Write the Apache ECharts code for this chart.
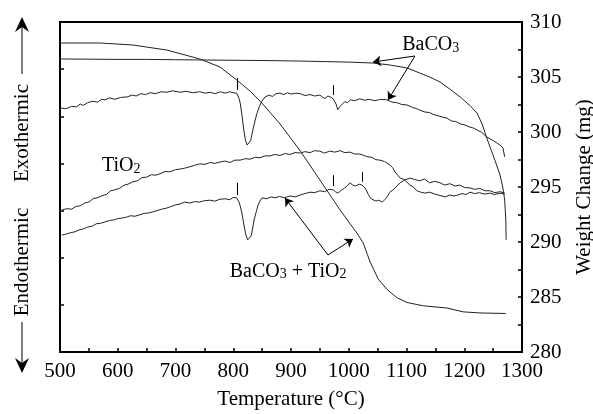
<!DOCTYPE html>
<html>
<head>
<meta charset="utf-8">
<script src="https://cdn.jsdelivr.net/npm/echarts@6/dist/echarts.min.js"></script>
<style>
    html, body { margin: 0; padding: 0; background: #fff; }
    #chart { width: 593px; height: 414px; }
</style>
</head>
<body>
<div id="chart"></div>
<script>
    // x range and tick labels
    const tempTicks = [500, 600, 700, 800, 900, 1000, 1100, 1200, 1300];
    const weightTicks = [280, 285, 290, 295, 300, 305, 310];

    // TG curves (weight, mg) -- right axis
    const tgBaCO3 = [[500,306.64],[550,306.62],[600,306.6],[650,306.6],[700,306.57],[742,306.55],[800,306.52],[850,306.5],
        [915,306.45],[960,306.4],[1002,306.35],[1042,306.27],[1070,306.1],[1101,305.82],[1123,305.36],[1140,305.0],
        [1158,304.55],[1175,303.9],[1193,303.18],[1210,302.4],[1222,301.73],[1231,300.73],[1239,299.45],[1247,298.3],
        [1253,297.45],[1262,296.09],[1267,294.9],[1270,293.8],[1272,292.0],[1272.5,290.2]];
    const tgMix = [[500,308.09],[569,308.09],[626,307.91],[685,307.45],[742,306.64],[777,305.91],[806,304.73],[829,303.73],
        [851,302.55],[881,300.73],[915,298.36],[950,295.64],[985,292.91],[1014,290.82],[1025,289.91],[1037,288.18],
        [1051,286.64],[1066,285.7],[1083,284.95],[1101,284.5],[1129,284.2],[1170,284.0],[1198,283.65],[1227,283.55],[1272,283.5]];

    // DTA curves (arbitrary units) -- left axis
    const dtaBaCO3 = [[500,51.8],[510,51.6],[520,52.1],[529,52.0],[535,52.6],[540,52.3],[548,52.9],[557,53.2],[565,53.0],
        [572,53.6],[578,53.5],[586,53.9],[595,53.6],[605,54.0],[616,54.1],[625,54.5],[632,54.3],[640,54.8],[648,54.6],
        [656,55.0],[665,54.8],[675,55.2],[685,55.1],[695,55.4],[708,55.1],[718,55.3],[730,55.0],[742,55.2],[752,54.9],
        [760,55.1],[768,54.8],[778,55.2],[786,54.9],[794,55.2],[800,55.0],[806,54.9],[810,53.8],[812,52.8],[815,50.3],
        [818,47.3],[821,45.0],[824,43.9],[827,44.1],[830,44.8],[834,47.1],[838,49.2],[841,50.6],[845,52.0],[849,53.1],
        [855,54.1],[862,54.5],[868,54.2],[874,54.8],[881,54.9],[888,54.6],[894,55.0],[900,54.7],[908,54.9],[916,54.8],
        [924,54.4],[933,54.6],[941,54.3],[950,54.5],[955,54.0],[959,53.8],[964,54.3],[968,54.1],[973,53.7],[978,52.6],
        [981,51.4],[985,52.1],[988,51.9],[993,53.1],[998,52.9],[1003,53.5],[1010,53.3],[1019,53.7],[1027,53.4],[1035,53.6],
        [1045,53.3],[1055,53.6],[1066,53.5],[1075,53.0],[1083,52.9],[1092,52.5],[1101,52.4],[1110,51.9],[1118,51.6],
        [1123,51.3],[1132,50.9],[1140,50.8],[1146,50.4],[1155,50.1],[1163,49.8],[1170,49.6],[1178,49.0],[1185,48.9],
        [1193,48.4],[1200,48.2],[1210,47.7],[1216,47.5],[1222,47.1],[1230,46.6],[1239,45.6],[1248,45.0],[1257,44.3],
        [1262,43.9],[1267,43.3],[1270,41.4]];
    const dtaTiO2 = [[503,30.1],[512,30.4],[520,30.3],[528,30.9],[535,31.0],[543,31.6],[550,31.8],[557,32.5],[564,32.7],
        [572,33.1],[580,33.4],[588,34.2],[595,34.4],[603,34.7],[611,35.4],[618,35.6],[626,36.1],[634,36.3],[642,37.0],
        [650,37.1],[658,37.6],[666,37.5],[673,37.8],[682,38.3],[690,38.2],[700,38.7],[708,38.8],[716,39.0],[725,39.3],
        [733,39.6],[742,39.9],[751,39.8],[760,40.2],[768,40.0],[777,40.3],[786,40.5],[794,40.2],[803,40.7],[812,40.7],
        [820,41.0],[829,40.9],[838,41.3],[846,41.2],[855,41.6],[864,41.6],[872,41.9],[881,41.7],[890,42.1],[898,41.9],
        [907,42.3],[916,42.2],[924,42.5],[933,42.3],[941,42.7],[950,42.6],[958,42.2],[967,42.6],[976,42.4],[985,42.7],
        [993,42.3],[1002,42.4],[1010,42.0],[1019,42.0],[1026,41.7],[1033,41.4],[1040,41.3],[1047,40.8],[1054,40.7],
        [1062,40.4],[1071,39.7],[1076,39.1],[1080,38.2],[1085,37.5],[1089,36.9],[1096,36.6],[1106,35.4],[1112,35.0],
        [1118,34.2],[1125,33.9],[1132,33.7],[1140,33.9],[1149,33.5],[1158,33.2],[1167,32.9],[1175,33.3],[1182,33.1],
        [1189,33.3],[1196,33.6],[1203,33.4],[1210,33.9],[1218,33.6],[1226,33.8],[1235,33.5],[1245,33.7],[1253,33.4],
        [1262,33.7],[1270,33.5]];
    const dtaMix = [[503,24.8],[510,25.0],[518,25.3],[526,25.5],[533,25.9],[540,26.1],[548,26.5],[556,26.7],[563,27.2],
        [570,27.3],[578,27.6],[586,27.9],[593,28.0],[600,28.3],[607,28.4],[615,28.6],[622,28.9],[630,28.8],[638,29.1],
        [646,29.4],[654,29.5],[660,29.7],[668,30.0],[676,30.3],[684,30.5],[691,30.8],[700,31.2],[708,31.4],[716,31.8],
        [725,31.6],[733,31.9],[742,31.8],[750,32.1],[760,32.2],[768,32.0],[777,32.4],[786,32.5],[794,32.3],[800,32.8],
        [806,32.7],[810,31.8],[812,31.0],[815,29.5],[817,28.0],[820,26.0],[822,24.8],[825,23.8],[828,24.0],[831,24.6],
        [834,26.5],[836,28.0],[840,29.8],[843,31.2],[847,32.2],[850,32.7],[858,32.5],[865,32.9],[872,32.7],[880,33.0],
        [889,32.7],[898,33.1],[907,32.9],[916,33.3],[924,33.6],[933,33.9],[941,33.8],[950,34.2],[958,34.0],[966,34.5],
        [973,34.4],[977,34.0],[981,33.7],[987,34.3],[993,34.8],[998,35.3],[1002,35.9],[1007,35.4],[1012,35.2],[1018,35.6],
        [1023,35.4],[1027,35.0],[1030,34.4],[1034,33.4],[1037,32.7],[1042,32.3],[1047,32.0],[1052,32.2],[1058,31.8],
        [1064,32.5],[1068,33.2],[1071,33.9],[1076,34.3],[1080,34.8],[1085,35.4],[1089,35.9],[1097,36.5],[1106,36.9],
        [1114,36.6],[1123,36.3],[1131,36.7],[1140,35.9],[1149,36.2],[1158,35.9],[1166,35.4],[1175,35.7],[1184,35.2],
        [1192,35.4],[1200,34.9],[1210,34.8],[1218,34.5],[1227,34.7],[1236,34.2],[1245,34.2],[1253,33.8],[1262,34.0],
        [1270,33.7]];

    // short vertical markers on DTA curves [temp, from, to]
    const dtaMarks = [[806.5,58.1,55.6],[972.7,56.6,54.5],[806.5,35.9,33.3],[972.7,37.5,35.2],[1023,38.2,36.1]];

    // labels and arrows, in (temp, weight) coords
    const labels = [
        { text: '{a|BaCO}{s|3}', at: [1142, 307.9] },
        { text: '{a|TiO}{s|2}', at: [606, 296.9] },
        { text: '{a|BaCO}{s|3}{a| + TiO}{s|2}', at: [895, 287.3] }
    ];
    const arrows = [
        [[1114.7, 306.91], [1042, 306.36]],
        [[1114.7, 306.91], [1068, 302.91]],
        [[964, 288.82], [889.6, 294.0]],
        [[964, 288.82], [1007.4, 290.27]]
    ];

    const serif = 'Liberation Serif, Times New Roman, serif';
    const ink = '#000';
    const curve = '#222';

    let myChart = echarts.init(document.getElementById('chart'), null, { renderer: 'canvas' });

    function line(data, yIdx, extra) {
        return Object.assign({
            type: 'line',
            yAxisIndex: yIdx,
            data: data,
            symbol: 'none',
            silent: true,
            lineStyle: { color: curve, width: 1 }
        }, extra || {});
    }

    myChart.setOption({
        animation: false,
        grid: {
            left: 60, right: 71, top: 22, bottom: 62,
            outerBoundsMode: 'none',
            containLabel: false,
            show: true, borderColor: ink, borderWidth: 2
        },
        xAxis: {
            type: 'value',
            min: 500, max: 1300, interval: 100,
            name: 'Temperature (°C)',
            nameLocation: 'middle',
            nameGap: 37,
            nameTextStyle: { fontFamily: serif, fontSize: 21, color: ink },
            axisLine: { lineStyle: { color: ink, width: 2 } },
            axisTick: { inside: true, length: 4, lineStyle: { color: ink, width: 1.5 } },
            minorTick: { show: true, splitNumber: 2, length: 4, lineStyle: { color: ink, width: 1.5 } },
            splitLine: { show: false },
            axisLabel: {
                fontFamily: serif, fontSize: 21, color: ink, margin: 9,
                formatter: v => tempTicks.indexOf(v) >= 0 ? String(v) : ''
            }
        },
        yAxis: [
            {
                type: 'value',
                min: 0, max: 70, interval: 10,
                position: 'left',
                axisLine: { show: true, lineStyle: { color: ink, width: 2 } },
                axisTick: { show: true, inside: true, length: 4, lineStyle: { color: ink, width: 1.5 } },
                axisLabel: { show: false },
                splitLine: { show: false }
            },
            {
                type: 'value',
                min: 280, max: 310, interval: 5,
                position: 'right',
                name: 'Weight Change (mg)',
                nameLocation: 'middle',
                nameRotate: 90,
                nameGap: 52,
                nameTextStyle: { fontFamily: serif, fontSize: 21, color: ink },
                axisLine: { show: true, lineStyle: { color: ink, width: 2 } },
                axisTick: { show: true, inside: true, length: 4, lineStyle: { color: ink, width: 1.5 } },
                minorTick: { show: true, splitNumber: 2, length: 4, lineStyle: { color: ink, width: 1.5 } },
                axisLabel: {
                    fontFamily: serif, fontSize: 21, color: ink, margin: 8,
                    formatter: v => weightTicks.indexOf(v) >= 0 ? String(v) : ''
                },
                splitLine: { show: false }
            }
        ],
        series: [
            line(tgBaCO3, 1, {
                markLine: {
                    silent: true,
                    symbol: ['none', 'arrow'],
                    symbolSize: 8,
                    label: { show: false },
                    lineStyle: { color: ink, width: 1, type: 'solid' },
                    data: arrows.map(a => [{ coord: a[0] }, { coord: a[1] }])
                },
                markPoint: {
                    silent: true,
                    symbol: 'circle',
                    symbolSize: 0,
                    label: {
                        show: true,
                        position: 'inside',
                        color: ink,
                        rich: {
                            a: { fontFamily: serif, fontSize: 20, color: ink, lineHeight: 20, verticalAlign: 'bottom' },
                            s: { fontFamily: serif, fontSize: 14, color: ink, lineHeight: 14, verticalAlign: 'bottom' }
                        }
                    },
                    data: labels.map(l => ({ coord: l.at, value: 0, label: { formatter: l.text } }))
                }
            }),
            line(tgMix, 1),
            line(dtaBaCO3, 0, {
                markLine: {
                    silent: true,
                    symbol: ['none', 'none'],
                    label: { show: false },
                    lineStyle: { color: ink, width: 1, type: 'solid' },
                    data: dtaMarks.map(m => [{ coord: [m[0], m[1]] }, { coord: [m[0], m[2]] }])
                }
            }),
            line(dtaTiO2, 0),
            line(dtaMix, 0)
        ],
        graphic: [
            {
                type: 'text', x: 22, y: 133, rotation: Math.PI / 2,
                style: { text: 'Exothermic', fontFamily: serif, fontSize: 21, fill: ink, align: 'center', verticalAlign: 'middle' }
            },
            {
                type: 'text', x: 22, y: 262, rotation: Math.PI / 2,
                style: { text: 'Endothermic', fontFamily: serif, fontSize: 21, fill: ink, align: 'center', verticalAlign: 'middle' }
            },
            { type: 'line', shape: { x1: 22, y1: 22, x2: 22, y2: 74 }, style: { stroke: ink, lineWidth: 1 } },
            { type: 'polygon', shape: { points: [[22, 17], [29, 32], [22, 27], [15, 32]] }, style: { fill: ink } },
            { type: 'line', shape: { x1: 22, y1: 322, x2: 22, y2: 368 }, style: { stroke: ink, lineWidth: 1 } },
            { type: 'polygon', shape: { points: [[22, 373], [29, 358], [22, 363], [15, 358]] }, style: { fill: ink } }
        ]
    });
</script>
</body>
</html>
